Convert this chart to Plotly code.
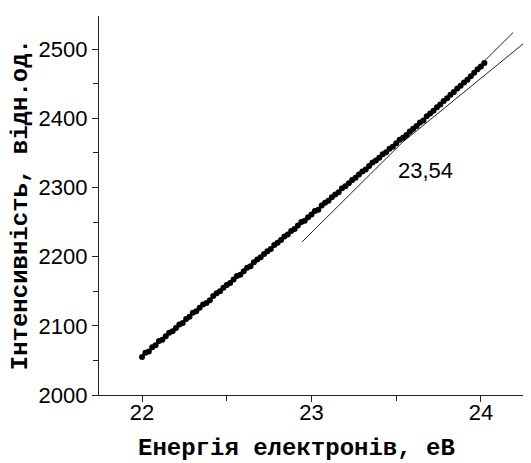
import plotly.graph_objects as go

# Measured spectrum: electron energy (eV) vs intensity (arb. units)
energy = [
    22.00, 22.02, 22.04, 22.06, 22.08, 22.10, 22.12, 22.14, 22.16, 22.18,
    22.20, 22.22, 22.24, 22.26, 22.28, 22.30, 22.32, 22.34, 22.36, 22.38,
    22.40, 22.42, 22.44, 22.46, 22.48, 22.50, 22.52, 22.54, 22.56, 22.58,
    22.60, 22.62, 22.64, 22.66, 22.68, 22.70, 22.72, 22.74, 22.76, 22.78,
    22.80, 22.82, 22.84, 22.86, 22.88, 22.90, 22.92, 22.94, 22.96, 22.98,
    23.00, 23.02, 23.04, 23.06, 23.08, 23.10, 23.12, 23.14, 23.16, 23.18,
    23.20, 23.22, 23.24, 23.26, 23.28, 23.30, 23.32, 23.34, 23.36, 23.38,
    23.40, 23.42, 23.44, 23.46, 23.48, 23.50, 23.52, 23.54, 23.56, 23.58,
    23.60, 23.62, 23.64, 23.66, 23.68, 23.70, 23.72, 23.74, 23.76, 23.78,
    23.80, 23.82, 23.84, 23.86, 23.88, 23.90, 23.92, 23.94, 23.96, 23.98,
    24.00, 24.02,
]
intensity = [
    2055, 2061, 2063, 2069, 2072, 2078, 2080, 2085, 2090, 2092,
    2097, 2102, 2104, 2110, 2113, 2119, 2121, 2126, 2131, 2133,
    2137, 2143, 2147, 2150, 2155, 2159, 2162, 2167, 2172, 2174,
    2179, 2184, 2186, 2192, 2196, 2199, 2204, 2208, 2211, 2217,
    2220, 2224, 2229, 2232, 2237, 2240, 2245, 2250, 2252, 2257,
    2261, 2266, 2268, 2274, 2278, 2281, 2286, 2290, 2293, 2299,
    2302, 2306, 2311, 2314, 2319, 2323, 2326, 2331, 2336, 2339,
    2343, 2348, 2351, 2356, 2359, 2364, 2369, 2372, 2376, 2381,
    2385, 2389, 2394, 2397, 2403, 2407, 2411, 2416, 2420, 2425,
    2429, 2434, 2438, 2443, 2447, 2452, 2456, 2461, 2466, 2471,
    2475, 2480,
]

# Linear fits of the high-energy part and extension of the low-energy part
fit_high_x = [22.944, 24.189]
fit_high_y = [2221.3, 2524.0]
fit_low_x = [23.54, 24.29]
fit_low_y = [2366.0, 2516.0]

# Knee position found from the intersection of the two fits
knee_label = "23,54"
knee_label_x = 23.67
knee_label_y = 2325

x_range = [21.746, 24.248]
y_range = [2000, 2548]
x_title = "Енергія електронів, еВ"
y_title = "Інтенсивність, відн.од."

fig = go.Figure()

fig.add_trace(go.Scatter(
    x=fit_high_x, y=fit_high_y, mode="lines",
    line=dict(color="#222222", width=1), showlegend=False, hoverinfo="skip",
))
fig.add_trace(go.Scatter(
    x=fit_low_x, y=fit_low_y, mode="lines",
    line=dict(color="#222222", width=1), showlegend=False, hoverinfo="skip",
))
fig.add_trace(go.Scatter(
    x=energy, y=intensity, mode="markers",
    marker=dict(color="black", size=6, line=dict(width=0)),
    showlegend=False,
))

fig.add_annotation(
    x=knee_label_x, y=knee_label_y, xref="x", yref="y",
    text=knee_label, showarrow=False,
    font=dict(family="Liberation Sans, Arial", size=22, color="black"),
)

title_font = dict(family="Liberation Mono, Courier New, monospace", size=24, color="black")
fig.add_annotation(
    x=0.466, y=-0.140, xref="paper", yref="paper", xanchor="center", yanchor="middle",
    text="<b>" + x_title + "</b>", showarrow=False, font=title_font,
)
fig.add_annotation(
    x=-0.186, y=0.501, xref="paper", yref="paper", xanchor="center", yanchor="middle",
    text="<b>" + y_title + "</b>", showarrow=False, font=title_font, textangle=-90,
)

tick_font = dict(family="Liberation Sans, Arial", size=22, color="black")
fig.update_xaxes(
    range=x_range, dtick=1, tick0=22, ticks="outside", ticklen=6, tickwidth=1,
    tickcolor="#222222", showline=True, linecolor="#222222", linewidth=1.3,
    showgrid=False, zeroline=False, tickfont=tick_font, ticklabelstandoff=-9,
    minor=dict(dtick=0.5, tick0=22, ticks="outside", ticklen=5, tickcolor="#222222", showgrid=False),
)
fig.update_yaxes(
    range=y_range, dtick=100, tick0=2000, ticks="outside", ticklen=6, tickwidth=1,
    tickcolor="#222222", showline=True, linecolor="#222222", linewidth=1.3,
    showgrid=False, zeroline=False, tickfont=tick_font,
    minor=dict(dtick=50, tick0=2000, ticks="outside", ticklen=5, tickcolor="#222222", showgrid=False),
)

fig.update_layout(
    width=531, height=463,
    margin=dict(l=99, r=8, t=16, b=68),
    paper_bgcolor="white", plot_bgcolor="white",
)

fig.write_html("out.html")
